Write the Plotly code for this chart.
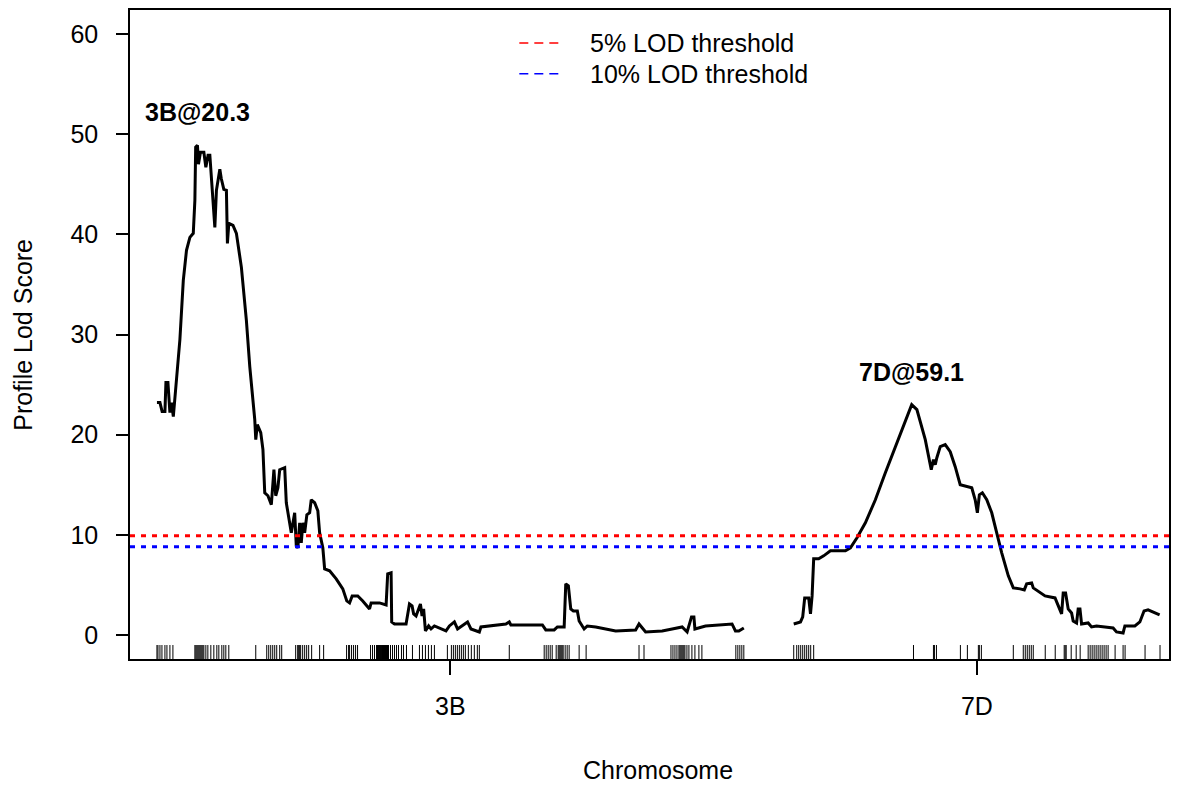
import plotly.graph_objects as go

# ---- Genome scan profile: chromosome 3B and 7D ----
chrom_names = ["3B", "7D"]

# Profile LOD curve, positions in cM within each chromosome
pos_3b = [0.0, 1.5, 2.6, 4.0, 4.5, 5.5, 6.5, 7.3, 8.2, 9.8, 11.5, 13.2, 14.8, 16.5, 18.2, 19.0, 19.4,
          20.3, 20.8, 21.8, 23.5, 24.5, 25.6, 26.5, 27.3, 29.0, 29.8, 31.5, 32.2, 33.5, 34.8, 35.3, 36.0,
          38.1, 39.8, 42.3, 44.8, 46.5, 49.0, 49.5, 50.3, 52.0, 53.1, 54.0, 55.6, 57.3, 58.6, 59.5, 60.6,
          61.5, 64.0, 64.8, 67.3, 69.0, 69.8, 70.6, 71.5, 72.3, 73.1, 74.0, 75.1, 76.5, 77.3, 79.0, 80.6,
          81.5, 83.1, 84.0, 86.5, 89.8, 93.1, 95.1, 96.5, 97.8, 100.6, 103.1, 106.5, 107.3, 111.5, 114.8,
          115.6, 117.3, 117.6, 119.0, 124.8, 126.5, 127.8, 128.6, 129.8, 132.0, 132.8, 133.6, 134.5, 136.1,
          137.3, 139.0, 144.8, 146.5, 149.0, 150.6, 155.6, 157.3, 161.5, 162.3, 174.8, 176.5, 177.3, 193.1,
          194.8, 199.0, 200.6, 204.0, 204.8, 206.1, 207.3, 208.6, 210.6, 211.5, 214.0, 215.6, 219.8, 229.8,
          239.8, 241.5, 244.8, 253.1, 258.1, 263.1, 265.6, 267.8, 269.0, 269.5, 274.8, 288.1, 289.8, 291.5,
          294.0]
lod_3b = [23.2, 23.2, 22.3, 22.3, 25.2, 25.2, 22.2, 23.2, 21.8, 25.5, 29.5, 35.4, 38.4, 39.7, 40.1, 43.4, 48.7,
          48.9, 47.0, 48.2, 48.2, 46.7, 47.9, 47.9, 45.7, 40.7, 44.4, 46.5, 45.6, 44.5, 44.4, 39.1, 41.1,
          40.9, 40.1, 36.7, 31.4, 26.8, 21.5, 19.5, 21.0, 20.2, 18.5, 14.2, 13.9, 13.0, 16.5, 13.9, 14.7,
          16.5, 16.7, 13.2, 10.2, 12.2, 8.9, 8.7, 11.2, 9.2, 11.2, 10.2, 12.0, 12.2, 13.5, 13.2, 12.4,
          10.2, 8.7, 6.6, 6.4, 5.6, 4.6, 3.4, 3.2, 3.9, 3.9, 3.4, 2.6, 3.2, 3.2, 3.0,
          6.1, 6.2, 1.3, 1.1, 1.1, 3.1, 2.9, 2.1, 1.9, 3.1, 1.9, 2.6, 0.4, 0.9,
          0.6, 0.9, 0.4, 0.9, 1.3, 0.6, 1.3, 0.6, 0.3, 0.8, 1.1, 1.3, 1.0, 1.0,
          0.5, 0.5, 0.8, 0.8, 5.1, 4.9, 2.6, 2.4, 2.4, 1.4, 0.6, 0.9, 0.8, 0.4,
          0.5, 1.1, 0.3, 0.4, 0.6, 0.8, 0.3, 1.8, 1.8, 0.6, 0.9, 1.1, 0.4, 0.4,
          0.7]

pos_7d = [0.0, 3.4, 4.5, 5.5, 7.5, 8.4, 9.2, 10.0, 12.5, 15.0, 18.4, 22.5, 25.9, 28.4, 31.7, 35.9, 40.9,
          45.9, 50.9, 55.9, 59.1, 61.7, 65.9, 68.9, 70.0, 70.9, 71.7, 73.4, 75.9, 78.4, 80.9, 83.4, 85.9,
          89.2, 90.9, 92.0, 93.0, 94.5, 96.7, 99.2, 101.7, 104.2, 107.5, 110.0, 113.4, 115.5, 116.7, 119.2,
          120.0, 125.9, 130.9, 132.5, 134.2, 135.0, 136.2, 137.5, 139.2, 140.0, 141.7, 142.5, 143.4, 144.2,
          147.5, 149.2, 151.7, 155.9, 160.0, 161.7, 165.0, 165.9, 167.5, 170.9, 173.4, 175.5, 177.5, 180.0,
          183.3]
lod_7d = [1.1, 1.3, 1.8, 3.7, 3.7, 2.1, 3.9, 7.6, 7.6, 7.9, 8.4, 8.4, 8.4, 8.7, 9.7, 11.2, 13.5,
          16.2, 18.8, 21.2, 23.0, 22.5, 19.5, 16.5, 17.5, 17.0, 17.7, 18.8, 19.0, 18.3, 16.8, 15.0, 14.9,
          14.7, 13.5, 12.2, 14.0, 14.2, 13.5, 12.2, 10.2, 8.2, 5.9, 4.7, 4.6, 4.5, 5.1, 5.2,
          4.7, 3.9, 3.7, 2.9, 2.1, 4.2, 4.2, 2.6, 2.2, 1.4, 1.2, 2.6, 2.6, 1.1,
          1.2, 0.8, 0.9, 0.8, 0.7, 0.3, 0.2, 0.9, 0.9, 0.9, 1.3, 2.4, 2.5, 2.3,
          2.0]

# Genetic map marker positions (cM)
markers_3b = [0.0, 0.5, 1.5, 2.5, 4.0, 5.0, 6.5, 8.0,
              19.0, 19.5, 20.0, 20.5, 21.0, 21.5, 22.0, 22.5, 23.0, 23.5, 24.5, 25.5,
              27.0, 28.5, 30.0, 31.0, 32.5, 33.5, 34.5, 36.0, 49.5,
              55.0, 56.0, 57.0, 58.0, 59.0, 60.0, 61.5, 62.5,
              69.5, 70.5, 71.0, 71.5, 72.0, 73.0, 74.0, 75.0, 76.0, 77.5, 81.5, 83.5,
              95.0, 96.0, 96.5, 97.5, 98.5, 99.5, 100.5,
              107.0, 108.0, 109.0, 110.0, 110.5, 111.0, 111.5, 112.0, 112.5, 113.0, 113.5, 114.0,
              114.5, 115.0, 115.5, 116.0, 117.0, 118.0, 119.0, 120.0, 121.0, 122.5, 123.5, 125.0,
              128.0, 131.5, 133.0, 134.5, 136.0, 137.5, 139.0, 145.5,
              147.5, 148.5, 149.5, 150.5, 151.5, 152.5, 153.5, 154.5, 156.0, 157.5, 159.0, 160.5, 161.5,
              176.5, 194.0, 195.0, 196.0, 197.0, 198.0,
              200.0, 201.0, 201.5, 202.0, 202.5, 203.0, 203.5, 204.5, 205.5, 206.5, 211.5, 215.0,
              241.5, 244.0,
              257.5, 258.5, 259.5, 260.5, 261.5, 262.0, 262.5, 263.0, 263.5, 264.0, 264.5, 265.5,
              266.5, 268.0, 269.5, 271.5, 273.0,
              290.0, 291.0, 292.0, 293.0, 294.0]
markers_7d = [0.0, 1.5, 2.5, 3.5, 4.5, 5.5, 6.5, 7.5, 8.5, 10.0,
              60.0, 70.0, 70.5, 71.5, 83.5, 87.0, 92.5, 93.0, 94.0, 110.0,
              115.0, 116.0, 117.0, 118.0, 119.0, 120.0, 126.0, 131.0,
              135.5, 136.0, 136.5, 139.0, 141.5, 143.5,
              147.5, 148.5, 149.5, 150.5, 151.5, 152.5, 153.5, 154.5, 155.5, 156.5, 157.5,
              161.0, 165.0, 166.0, 176.0, 183.5]

# Permutation thresholds
threshold_labels = ["5% LOD threshold", "10% LOD threshold"]
threshold_values = [9.9, 8.8]
threshold_colors = ["#ff0000", "#0000ff"]

chr_gap = 25.0
y_min, y_max = -2.4, 62.4

# ---- layout of chromosomes along a shared x axis ----
offset_7d = markers_3b[-1] + chr_gap
x_3b = list(pos_3b)
x_7d = [p + offset_7d for p in pos_7d]
m_3b = list(markers_3b)
m_7d = [p + offset_7d for p in markers_7d]
mid_3b = (markers_3b[0] + markers_3b[-1]) / 2
mid_7d = offset_7d + (markers_7d[0] + markers_7d[-1]) / 2

FONT = "Liberation Sans, Arial, sans-serif"
FS = 25
fig = go.Figure()

# LOD profiles
for xs, ys in [(x_3b, lod_3b), (x_7d, lod_7d)]:
    fig.add_trace(go.Scatter(x=xs, y=ys, mode="lines",
                             line=dict(color="black", width=3), hoverinfo="x+y",
                             showlegend=False))

# marker rug along the bottom
rug_x, rug_y = [], []
rug_top = y_min + 0.02 * (y_max - y_min) + 0.1
for m in m_3b + m_7d:
    rug_x += [m, m, None]
    rug_y += [y_min, rug_top, None]
fig.add_trace(go.Scatter(x=rug_x, y=rug_y, mode="lines",
                         line=dict(color="black", width=1), hoverinfo="skip",
                         showlegend=False))

# threshold lines across the panel
for val, col in zip(threshold_values, threshold_colors):
    fig.add_shape(type="line", xref="paper", x0=0, x1=1, yref="y", y0=val, y1=val,
                  line=dict(color=col, width=3, dash="5px,6px"), layer="above")

# peak labels
for name, xs, pos, ys in [(chrom_names[0], x_3b, pos_3b, lod_3b),
                          (chrom_names[1], x_7d, pos_7d, lod_7d)]:
    i = max(range(len(ys)), key=lambda k: ys[k])
    fig.add_annotation(x=xs[i], y=ys[i], text=f"<b>{name}@{pos[i]:.1f}</b>",
                       showarrow=False, yshift=33, yanchor="middle",
                       font=dict(family=FONT, size=FS, color="black"))

# legend drawn as line samples with labels
legend_y = [0.9493, 0.9017]
for lab, col, ly in zip(threshold_labels, threshold_colors, legend_y):
    fig.add_shape(type="line", xref="paper", yref="paper", x0=0.3747, x1=0.4141, y0=ly, y1=ly,
                  line=dict(color=col, width=1.5, dash="9px,6px"))
    fig.add_annotation(xref="paper", yref="paper", x=0.4409, y=ly, text=lab, showarrow=False,
                       xanchor="left", yanchor="middle",
                       font=dict(family=FONT, size=FS, color="black"))

# axis titles
fig.add_annotation(xref="paper", yref="paper", x=0.508, y=-0.1705, text="Chromosome",
                   showarrow=False, xanchor="center", yanchor="middle",
                   font=dict(family=FONT, size=FS, color="black"))
fig.add_annotation(xref="paper", yref="paper", x=-0.1037, y=0.5, text="Profile Lod Score",
                   showarrow=False, textangle=-90, xanchor="center", yanchor="middle",
                   font=dict(family=FONT, size=FS, color="black"))

fig.update_layout(
    width=1179, height=785,
    margin=dict(l=130, r=8, t=8, b=126),
    paper_bgcolor="white", plot_bgcolor="white",
    font=dict(family=FONT, size=FS, color="black"),
    showlegend=False,
)
fig.update_xaxes(range=[-13.5, 507], tickvals=[mid_3b, mid_7d], ticktext=chrom_names,
                 showgrid=False, zeroline=False, showline=True, linecolor="black", linewidth=1.5,
                 mirror=True, ticks="outside", ticklen=14, tickwidth=1.5, tickcolor="black",
                 ticklabelstandoff=10, tickfont=dict(family=FONT, size=FS, color="black"))
fig.update_yaxes(range=[y_min, y_max], tickvals=[0, 10, 20, 30, 40, 50, 60],
                 showgrid=False, zeroline=False, showline=True, linecolor="black", linewidth=1.5,
                 mirror=True, ticks="outside", ticklen=12, tickwidth=1.5, tickcolor="black",
                 ticklabelstandoff=13, tickfont=dict(family=FONT, size=FS, color="black"))

fig.write_html("out.html")
